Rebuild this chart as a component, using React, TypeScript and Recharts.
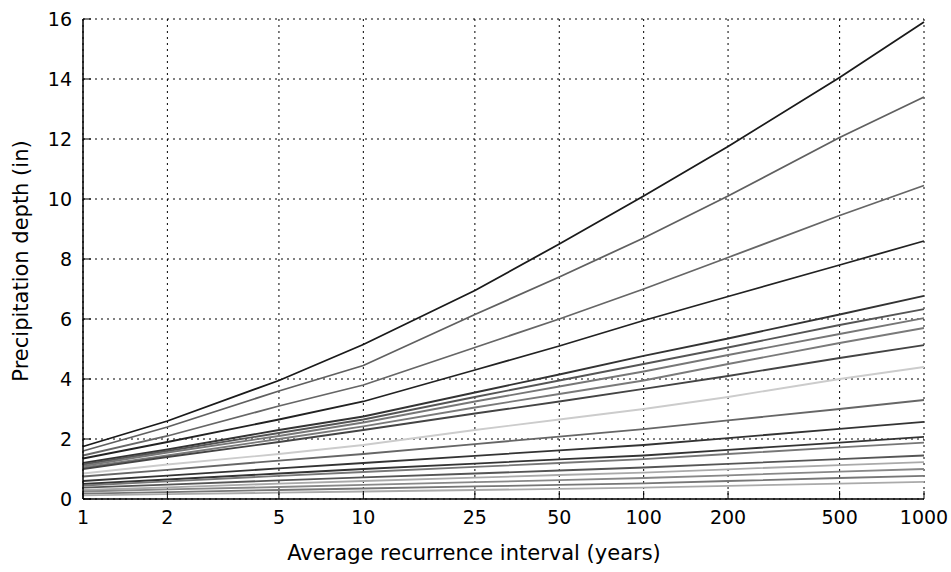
import { LineChart, Line, XAxis, YAxis, CartesianGrid, Label } from 'recharts'

// recurrence intervals (years) and depth axis ticks
const intervals = [1, 2, 5, 10, 25, 50, 100, 200, 500, 1000]
const depthTicks = [0, 2, 4, 6, 8, 10, 12, 14, 16]

// precipitation depth (in) per duration, top line first
const day60 = [1.75, 2.6, 3.95, 5.15, 6.95, 8.5, 10.1, 11.75, 14.05, 15.9]
const day45 = [1.6, 2.4, 3.6, 4.45, 6.15, 7.4, 8.7, 10.1, 12.05, 13.4]
const day30 = [1.45, 2.1, 3.1, 3.8, 5.05, 6.0, 7.0, 8.05, 9.45, 10.45]
const day20 = [1.35, 1.9, 2.65, 3.25, 4.3, 5.1, 5.95, 6.75, 7.8, 8.6]
const day10 = [1.2, 1.65, 2.3, 2.75, 3.55, 4.15, 4.77, 5.35, 6.15, 6.77]
const day7 = [1.15, 1.6, 2.2, 2.65, 3.4, 3.95, 4.5, 5.05, 5.8, 6.33]
const day4 = [1.1, 1.55, 2.1, 2.55, 3.25, 3.75, 4.25, 4.8, 5.5, 6.03]
const day3 = [1.05, 1.45, 2.0, 2.42, 3.05, 3.5, 3.95, 4.5, 5.2, 5.7]
const day2 = [1.0, 1.4, 1.9, 2.3, 2.85, 3.25, 3.67, 4.1, 4.7, 5.13]
const hr24 = [0.85, 1.15, 1.5, 1.8, 2.3, 2.65, 3.0, 3.4, 4.0, 4.4]
const hr12 = [0.75, 0.97, 1.28, 1.5, 1.83, 2.08, 2.33, 2.62, 3.0, 3.3]
const hr6 = [0.6, 0.78, 1.02, 1.2, 1.44, 1.62, 1.8, 2.03, 2.34, 2.57]
const hr3 = [0.5, 0.65, 0.85, 1.0, 1.18, 1.32, 1.45, 1.64, 1.88, 2.07]
const hr2 = [0.45, 0.59, 0.77, 0.9, 1.07, 1.2, 1.33, 1.5, 1.72, 1.88]
const min60 = [0.38, 0.48, 0.62, 0.72, 0.85, 0.95, 1.05, 1.17, 1.33, 1.45]
const min30 = [0.3, 0.39, 0.51, 0.6, 0.71, 0.8, 0.88, 0.99, 1.13, 1.23]
const min15 = [0.25, 0.32, 0.4, 0.47, 0.56, 0.63, 0.7, 0.79, 0.91, 1.0]
const min10 = [0.18, 0.23, 0.3, 0.35, 0.42, 0.47, 0.52, 0.6, 0.7, 0.77]
const min5 = [0.12, 0.16, 0.21, 0.25, 0.3, 0.34, 0.38, 0.44, 0.51, 0.57]

const series = [
  { key: '60-day', values: day60, color: '#1a1a1a' },
  { key: '45-day', values: day45, color: '#606060' },
  { key: '30-day', values: day30, color: '#666666' },
  { key: '20-day', values: day20, color: '#222222' },
  { key: '10-day', values: day10, color: '#333333' },
  { key: '7-day', values: day7, color: '#555555' },
  { key: '4-day', values: day4, color: '#777777' },
  { key: '3-day', values: day3, color: '#7a7a7a' },
  { key: '2-day', values: day2, color: '#444444' },
  { key: '24-hr', values: hr24, color: '#cccccc' },
  { key: '12-hr', values: hr12, color: '#666666' },
  { key: '6-hr', values: hr6, color: '#333333' },
  { key: '3-hr', values: hr3, color: '#333333' },
  { key: '2-hr', values: hr2, color: '#777777' },
  { key: '60-min', values: min60, color: '#555555' },
  { key: '30-min', values: min30, color: '#aaaaaa' },
  { key: '15-min', values: min15, color: '#888888' },
  { key: '10-min', values: min10, color: '#777777' },
  { key: '5-min', values: min5, color: '#aaaaaa' },
]

const data = intervals.map((x, i) => {
  const row: Record<string, number> = { x }
  series.forEach(s => { row[s.key] = s.values[i] })
  return row
})

const FONT = '"DejaVu Sans", sans-serif'
const TICK_LEN = 8

// matplotlib-style ticks: marks point into the plot
const LeftTick = ({ x, y, payload }: any) => {
  const edge = x + 8
  return (
    <g>
      <line x1={edge} x2={edge + TICK_LEN} y1={y} y2={y} stroke="#000" />
      <text x={x - 3} y={y} dy={7} textAnchor="end" fontFamily={FONT} fontSize={19} fill="#000">
        {payload.value}
      </text>
    </g>
  )
}

const BottomTick = ({ x, y, payload }: any) => {
  const edge = y - 8
  return (
    <g>
      <line x1={x} x2={x} y1={edge} y2={edge - TICK_LEN} stroke="#000" />
      <text x={x} y={y + 17} textAnchor="middle" fontFamily={FONT} fontSize={19} fill="#000">
        {payload.value}
      </text>
    </g>
  )
}

const TopTick = ({ x, y }: any) => (
  <line x1={x} x2={x} y1={y} y2={y + TICK_LEN} stroke="#000" />
)

const RightTick = ({ x, y }: any) => (
  <line x1={x} x2={x - TICK_LEN} y1={y} y2={y} stroke="#000" />
)

const XTitle = () => (
  <text x={474} y={560} textAnchor="middle" fontFamily={FONT} fontSize={21} fill="#000">
    Average recurrence interval (years)
  </text>
)

const YTitle = () => (
  <text
    x={0}
    y={0}
    transform="translate(28, 261) rotate(-90)"
    textAnchor="middle"
    fontFamily={FONT}
    fontSize={21}
    fill="#000"
  >
    Precipitation depth (in)
  </text>
)

export default function App() {
  return (
    <div style={{ position: 'absolute', left: 0, top: 0, background: '#fff' }}>
      <LineChart
        width={951}
        height={572}
        data={data}
        margin={{ top: 19, right: 27, left: 23, bottom: 43 }}
      >
        <CartesianGrid stroke="#000" strokeDasharray="2 4" strokeWidth={1} />
        <XAxis
          dataKey="x"
          type="number"
          scale="log"
          domain={[1, 1000]}
          ticks={intervals}
          interval={0}
          height={30}
          tickLine={false}
          tick={<BottomTick />}
          axisLine={{ stroke: '#000', strokeWidth: 1.5 }}
        >
          <Label content={<XTitle />} />
        </XAxis>
        <XAxis
          xAxisId="top"
          orientation="top"
          dataKey="x"
          type="number"
          scale="log"
          domain={[1, 1000]}
          ticks={intervals}
          interval={0}
          height={0}
          tickSize={0}
          tickMargin={0}
          tickLine={false}
          tick={<TopTick />}
          axisLine={{ stroke: '#000', strokeWidth: 1.5 }}
        />
        <YAxis
          type="number"
          domain={[0, 16]}
          ticks={depthTicks}
          interval={0}
          width={60}
          tickLine={false}
          tick={<LeftTick />}
          axisLine={{ stroke: '#000', strokeWidth: 1.5 }}
        >
          <Label content={<YTitle />} />
        </YAxis>
        <YAxis
          yAxisId="right"
          orientation="right"
          type="number"
          domain={[0, 16]}
          ticks={depthTicks}
          interval={0}
          width={0}
          tickSize={0}
          tickMargin={0}
          tickLine={false}
          tick={<RightTick />}
          axisLine={{ stroke: '#000', strokeWidth: 1.5 }}
        />
        {series.map(s => (
          <Line
            key={s.key}
            dataKey={s.key}
            name={s.key}
            type="linear"
            stroke={s.color}
            strokeWidth={1.8}
            dot={false}
            activeDot={false}
            isAnimationActive={false}
          />
        ))}
      </LineChart>
    </div>
  )
}
